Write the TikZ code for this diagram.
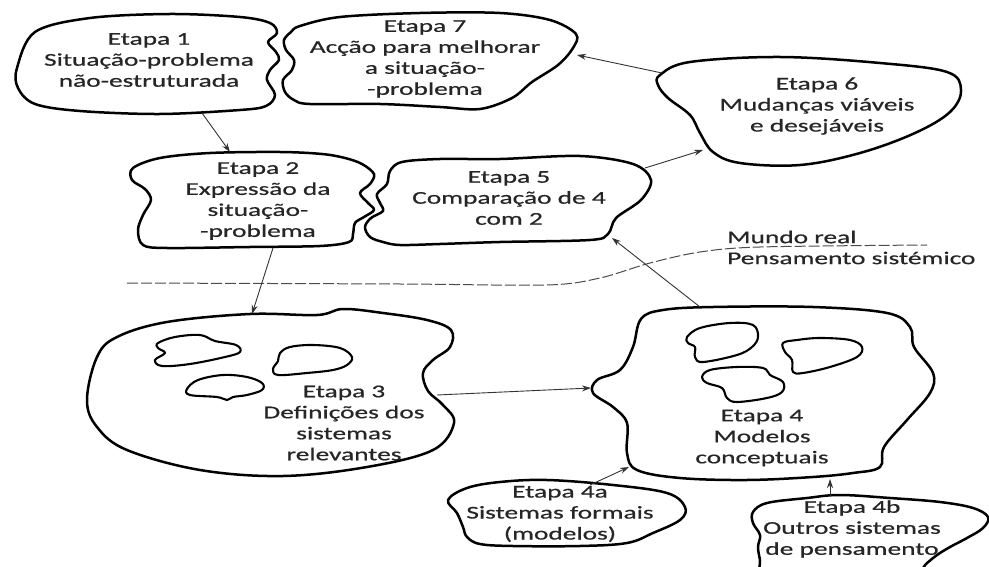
\documentclass[tikz,border=0pt]{standalone}
\usepackage{fontspec}
\setmainfont{Carlito}[FakeStretch=1.52, FakeBold=0.6]
\usetikzlibrary{arrows.meta}
\definecolor{ink}{HTML}{262626}
\definecolor{arrowgray}{HTML}{333333}
\tikzset{
  blob/.style={draw=black, line width=2.5pt, line join=round},
  smallblob/.style={draw=black, line width=2.1pt, line join=round},
  lbl/.style={align=center, font=\fontsize{18}{21}\selectfont, text=ink, inner sep=0pt},
  side/.style={anchor=west, font=\fontsize{18}{21}\selectfont, text=ink, inner sep=0pt},
  arr/.style={draw=arrowgray, line width=0.9pt, -{Stealth[length=9pt,width=6pt]}},
  divider/.style={draw=black!70, line width=1pt, dash pattern=on 11pt off 3pt}
}
\begin{document}
\begin{tikzpicture}[x=1pt,y=-1pt]
\useasboundingbox (0,0) rectangle (989,567);
\clip (0,0) rectangle (989,567);
\fill[white] (0,0) rectangle (989,567);

% Etapa 1
\draw[blob] plot[smooth cycle, tension=0.55] coordinates {
 (17,68) (35,32) (90,18) (170,14) (240,17) (270,23) (277,33) (268,42) (276,52)
 (279,60) (270,70) (267,80) (275,95) (266,106) (240,110) (160,114) (80,111) (35,104) (18,88)};
% Etapa 7
\draw[blob] plot[smooth cycle, tension=0.55] coordinates {
 (300,26) (340,17) (420,13) (500,13) (550,20) (576,34) (573,48) (558,65) (532,82)
 (512,98) (480,109) (440,107) (380,104) (310,104) (294,100) (285,92) (283,80) (292,70)
 (294,60) (286,50) (284,40) (291,32)};
% Etapa 6
\draw[blob] plot[smooth cycle, tension=0.6] coordinates {
 (660,75) (690,62) (780,57) (880,63) (947,72) (961,90) (950,112) (915,133) (860,153)
 (800,165) (740,163) (713,152) (700,133) (690,115) (668,98) (658,85)};
% Etapa 2
\draw[blob] plot[smooth cycle, tension=0.55] coordinates {
 (133,168) (160,158) (210,153) (280,152) (322,154) (345,158) (362,164) (374,174) (370,184)
 (360,193) (368,203) (374,210) (364,217) (355,223) (353,234) (349,242) (320,246) (250,247)
 (167,248) (143,245) (138,230) (143,215) (151,200) (145,189) (132,180)};
% Etapa 5
\draw[blob] plot[smooth cycle, tension=0.55] coordinates {
 (400,245) (383,242) (370,237) (365,227) (371,218) (383,211) (380,203) (377,194) (387,184)
 (390,171) (402,162) (440,159) (500,159) (580,156) (633,164) (651,180) (641,200) (616,218)
 (608,234) (590,240) (500,242) (440,244)};
% Etapa 3
\draw[blob] plot[smooth cycle, tension=0.6] coordinates {
 (250,314) (167,322) (117,337) (97,357) (87,400) (97,427) (127,450) (200,470) (283,476)
 (367,467) (433,450) (454,423) (443,405) (428,391) (423,373) (433,360) (450,347) (451,330)
 (427,320) (383,313) (343,309) (317,315)};
\draw[smallblob] plot[smooth cycle, tension=0.6] coordinates {
 (158,343) (175,337) (200,335) (215,341) (236,345) (240,352) (225,357) (190,364) (162,366)
 (155,360) (165,353) (158,348)};
\draw[smallblob] plot[smooth cycle, tension=0.6] coordinates {
 (280,353) (290,347) (313,345) (340,348) (352,357) (347,365) (333,370) (307,373) (278,375)
 (273,369) (278,361)};
\draw[smallblob] plot[smooth cycle, tension=0.6] coordinates {
 (187,389) (198,380) (223,375) (247,377) (262,383) (262,390) (247,395) (233,397) (227,400)
 (217,397) (190,395)};
% Etapa 4
\draw[blob] plot[smooth cycle, tension=0.6] coordinates {
 (641,319) (633,347) (620,370) (597,380) (593,393) (613,407) (627,423) (627,453) (637,470)
 (680,478) (747,480) (813,477) (853,473) (880,467) (884,447) (907,420) (930,393) (933,373)
 (914,347) (910,327) (887,313) (813,307) (713,307) (663,310)};
\draw[smallblob] plot[smooth cycle, tension=0.6] coordinates {
 (687,337) (700,328) (730,323) (753,325) (758,337) (752,347) (737,355) (703,362) (695,357)
 (695,347) (688,343)};
\draw[smallblob] plot[smooth cycle, tension=0.6] coordinates {
 (783,343) (797,340) (820,338) (850,340) (862,347) (857,357) (830,367) (803,373) (793,372)
 (792,360) (785,352)};
\draw[smallblob] plot[smooth cycle, tension=0.6] coordinates {
 (702,377) (710,370) (737,367) (763,368) (770,375) (783,382) (782,392) (767,398) (737,402)
 (727,398) (722,388) (707,383)};
% Etapa 4a
\draw[blob] plot[smooth cycle, tension=0.6] coordinates {
 (448,500) (467,488) (500,482) (547,480) (613,485) (667,493) (685,507) (680,520) (653,533)
 (627,543) (580,546) (513,546) (480,544) (467,537) (463,527) (457,513)};
% Etapa 4b
\draw[blob] plot[smooth cycle, tension=0.6] coordinates {
 (753,512) (767,503) (807,498) (840,495) (890,498) (940,502) (973,508) (988,517) (983,528)
 (967,538) (950,547) (937,555) (927,563) (900,585) (800,585) (763,575) (760,560) (758,547)
 (760,535) (753,523)};

% divider
\draw[divider] plot[smooth, tension=0.5] coordinates {
 (127,283) (400,284) (547,285) (600,278) (650,263) (700,252) (760,247) (927,245)};

% texts
\node[lbl] (s1) at (149,60) {Etapa 1\\Situação-problema\\não-estruturada};
\node[lbl] (s7) at (425,59) {Etapa 7\\Acção para melhorar\\a situação-\\-problema};
\node[lbl] (s6) at (817,106) {Etapa 6\\Mudanças viáveis\\e desejáveis};
\node[lbl] (s2) at (258,201) {Etapa 2\\Expressão da\\situação-\\-problema};
\node[lbl] (s5) at (509,198) {Etapa 5\\Comparação de 4\\com 2};
\node[lbl] (s3) at (344,423) {Etapa 3\\Definições dos\\sistemas\\relevantes};
\node[lbl] (s4) at (762,438) {Etapa 4\\Modelos\\conceptuais};
\node[lbl] (s4a) at (560,514) {Etapa 4a\\Sistemas formais\\(modelos)};
\node[lbl] (s4b) at (852,529) {Etapa 4b\\Outros sistemas\\de pensamento};
\node[side] (mr) at (727,237) {Mundo real};
\node[side] (ps) at (727,258) {Pensamento sistémico};

% connector end points
\coordinate (o1) at (202,113); \coordinate (i2) at (230,152);
\coordinate (o2) at (273,248); \coordinate (i3) at (252,314);
\coordinate (o3) at (437,395); \coordinate (i4) at (591,388);
\coordinate (o4) at (700,307); \coordinate (i5) at (612,238);
\coordinate (o5) at (645,168); \coordinate (i6) at (703,150);
\coordinate (o6) at (662,73);  \coordinate (i7) at (577,55);
\coordinate (o4a) at (590,485); \coordinate (i4a) at (629,467);
\coordinate (o4b) at (830,496); \coordinate (i4b) at (830,479);

\draw[arr] (o1) -- (i2);
\draw[arr] (o2) -- (i3);
\draw[arr] (o3) -- (i4);
\draw[arr] (o4) -- (i5);
\draw[arr] (o5) -- (i6);
\draw[arr] (o6) -- (i7);
\draw[arr] (o4a) -- (i4a);
\draw[arr] (o4b) -- (i4b);
\end{tikzpicture}
\end{document}
